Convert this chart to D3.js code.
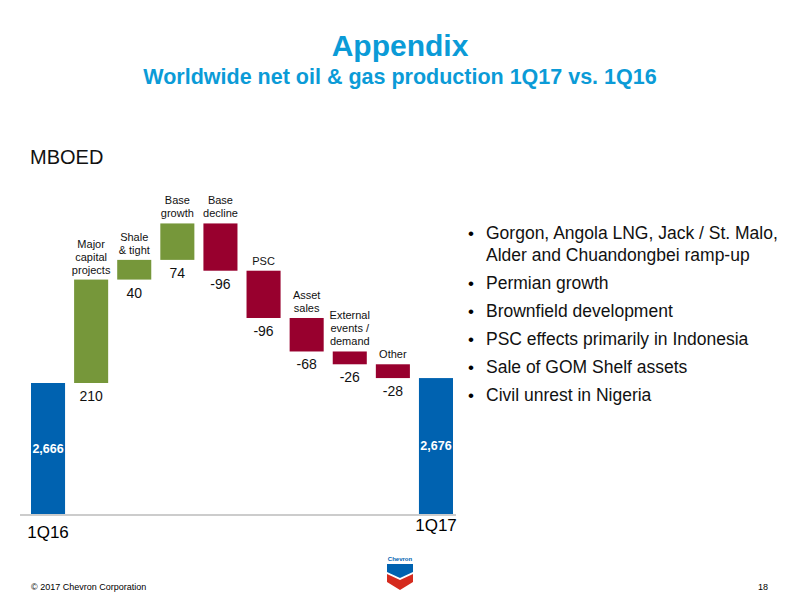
<!DOCTYPE html><html><head><meta charset="utf-8"><script src="https://cdn.jsdelivr.net/npm/d3@7"></script>
<style>body{margin:0;background:#fff}text{font-family:"Liberation Sans",Arial,sans-serif}</style></head><body><svg width="800" height="600"></svg>
<script>
const categories=["1Q16","Major capital projects","Shale & tight","Base growth","Base decline","PSC","Asset sales","External events / demand","Other","1Q17"];
const nameLines=[[],["Major","capital","projects"],["Shale","& tight"],["Base","growth"],["Base","decline"],["PSC"],["Asset","sales"],["External","events /","demand"],["Other"],[]];
const values=[2666,210,40,74,-96,-96,-68,-26,-28,2676];
const valueLabels=["2,666","210","40","74","-96","-96","-68","-26","-28","2,676"];
const bullets=[["Gorgon, Angola LNG, Jack / St. Malo,","Alder and Chuandongbei ramp-up"],["Permian growth"],["Brownfield development"],["PSC effects primarily in Indonesia"],["Sale of GOM Shelf assets"],["Civil unrest in Nigeria"]];
const svg=d3.select("svg");
const x=d3.scaleBand().domain(categories).range([31,453]).paddingInner(0.21).paddingOuter(0);
const y=d3.scaleLinear().domain([2400,2666]).range([514,383]);
let run=0;const bars=values.map((v,i)=>{let a,b,t;if(i==0||i==values.length-1){a=2400;b=v;t="total";run=v;}else{a=run;b=run+v;run=b;t=v>0?"up":"down";}return{c:categories[i],lo:Math.min(a,b),hi:Math.max(a,b),t,i};});
const col={total:"#0062b0",up:"#76973a",down:"#98002e"};
svg.append("text").attr("x",400).attr("y",56).attr("text-anchor","middle").attr("font-size",30).attr("font-weight","bold").attr("fill","#0b9bd7").text("Appendix");
svg.append("text").attr("x",400).attr("y",84).attr("text-anchor","middle").attr("font-size",21.5).attr("font-weight","bold").attr("fill","#0b9bd7").text("Worldwide net oil & gas production 1Q17 vs. 1Q16");
svg.append("text").attr("x",30).attr("y",164).attr("font-size",20).attr("fill","#111").text("MBOED");
svg.append("line").attr("x1",20).attr("x2",456).attr("y1",y(2400)+1).attr("y2",y(2400)+1).attr("stroke","#bbb").attr("stroke-width",1.5);
svg.selectAll("rect.b").data(bars).join("rect").attr("x",d=>x(d.c)).attr("width",x.bandwidth()).attr("y",d=>y(d.hi)).attr("height",d=>y(d.lo)-y(d.hi)).attr("fill",d=>col[d.t]);
bars.forEach(d=>{const cx=x(d.c)+x.bandwidth()/2;
 if(d.t=="total"){svg.append("text").attr("x",cx).attr("y",(y(d.hi)+y(d.lo))/2+4).attr("text-anchor","middle").attr("font-size",12.5).attr("font-weight","bold").attr("fill","#fff").text(valueLabels[d.i]);}
 else{svg.append("text").attr("x",cx).attr("y",y(d.lo)+18).attr("text-anchor","middle").attr("font-size",14).attr("fill","#111").text(valueLabels[d.i]);
 const L=nameLines[d.i];L.forEach((s,k)=>svg.append("text").attr("x",cx).attr("y",y(d.hi)-6-(L.length-1-k)*13).attr("text-anchor","middle").attr("font-size",11).attr("fill","#111").text(s));}});
svg.append("text").attr("x",48).attr("y",538).attr("text-anchor","middle").attr("font-size",17).text("1Q16");
svg.append("text").attr("x",436).attr("y",531).attr("text-anchor","middle").attr("font-size",17).text("1Q17");
let by=239;bullets.forEach(b=>{svg.append("text").attr("x",468).attr("y",by).attr("font-size",17).text("•");b.forEach((s,k)=>{svg.append("text").attr("x",486).attr("y",by+k*22).attr("font-size",17.5).attr("fill","#111").text(s);});by+=22*(b.length-1)+28;});
svg.append("text").attr("x",31).attr("y",590).attr("font-size",9).text("© 2017 Chevron Corporation");
svg.append("text").attr("x",768).attr("y",590).attr("text-anchor","end").attr("font-size",9).text("18");
const g=svg.append("g");
g.append("text").attr("x",400).attr("y",561).attr("text-anchor","middle").attr("font-size",6).attr("font-weight","bold").attr("fill","#0062b0").text("Chevron");
g.append("path").attr("d","M387,564 L413,564 L413,572 L400,578 L387,572Z").attr("fill","#0062b0");
g.append("path").attr("d","M387,574 L400,580 L413,574 L413,582 L400,590 L387,582Z").attr("fill","#d52b1e");
</script></body></html>
